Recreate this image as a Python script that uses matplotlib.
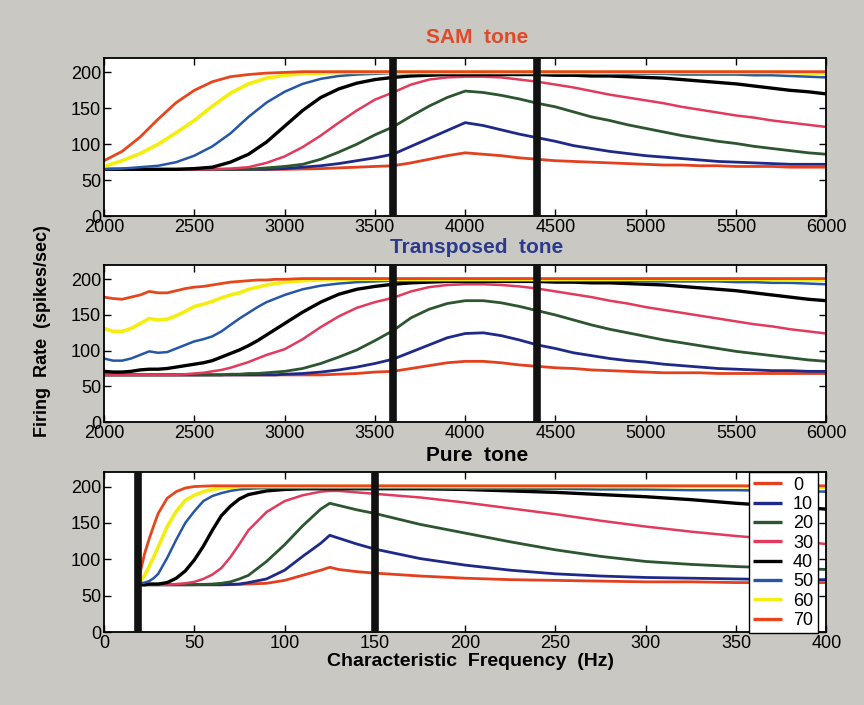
import numpy as np
import matplotlib
matplotlib.use("Agg")
import matplotlib.pyplot as plt

plt.rcParams["font.family"] = ["Liberation Sans Narrow", "Liberation Sans", "DejaVu Sans"]

LEVELS = ["0", "10", "20", "30", "40", "50", "60", "70"]
COLORS = ["#e2401e", "#1f2a88", "#2c5530", "#e23a5c", "#000000", "#2656a6", "#f4ee10", "#e6461c"]
WIDTHS = [2.0, 2.0, 2.0, 1.8, 2.4, 1.8, 2.6, 2.0]

# ---- SAM tone: firing rate vs CF (Hz), 100 Hz steps ----
sam_cf = list(range(2000, 6001, 100))
sam_rate = {
    "0":  [65, 65, 65, 65, 65, 65, 65, 65, 65, 65, 65, 65.5, 66, 67, 68, 69, 70, 74, 79, 84, 88,
           86, 84, 81, 79, 77, 76, 75, 74, 73, 72, 71, 71, 70, 70, 69, 69, 69, 68, 68, 68],
    "10": [65, 65, 65, 65, 65, 65, 65, 65, 65, 65, 66, 68, 70, 73, 77, 81, 86, 97, 108, 119, 130,
           126, 120, 114, 109, 104, 98, 94, 90, 87, 84, 82, 80, 78, 76, 75, 74, 73, 72, 72, 72],
    "20": [65, 65, 65, 65, 65, 65, 65, 65, 65, 67, 69, 72, 79, 89, 100, 113, 124, 139, 153, 165, 174,
           172, 168, 163, 157, 152, 145, 138, 133, 127, 122, 117, 112, 108, 104, 101, 97, 94, 91, 88, 86],
    "30": [65, 65, 65, 65, 65, 65, 65, 66, 68, 74, 83, 96, 112, 130, 147, 162, 172, 183, 190, 193, 194,
           194, 193, 190, 187, 183, 179, 174, 169, 165, 161, 157, 152, 148, 144, 140, 137, 133, 130, 127, 124],
    "40": [65, 65, 65, 65, 65, 66, 68, 75, 86, 103, 125, 147, 165, 177, 185, 190, 193, 195, 196, 197, 197,
           197, 197, 197, 197, 196, 196, 195, 195, 194, 193, 192, 190, 188, 186, 184, 181, 178, 175, 173, 170],
    "50": [65, 66, 68, 70, 75, 84, 97, 115, 138, 158, 173, 184, 191, 195, 197, 198, 199, 199, 199, 199, 199,
           199, 199, 199, 199, 199, 199, 199, 198, 198, 198, 198, 197, 197, 197, 197, 196, 196, 195, 194, 193],
    "60": [69, 77, 87, 100, 116, 133, 153, 171, 184, 192, 196, 198, 199, 200, 200, 200, 200, 200, 200, 200, 200,
           200, 200, 200, 200, 200, 200, 200, 200, 200, 200, 200, 200, 200, 200, 200, 200, 200, 200, 199, 199],
    "70": [77, 90, 110, 135, 158, 175, 187, 194, 197, 199, 200, 201, 201, 201, 201, 201, 201, 201, 201, 201, 201,
           201, 201, 201, 201, 201, 201, 201, 201, 201, 201, 201, 201, 201, 201, 201, 201, 201, 201, 201, 201],
}

# ---- Transposed tone: 50 Hz steps up to 3000, then 100 Hz ----
tr_cf = list(range(2000, 3000, 50)) + list(range(3000, 6001, 100))
tr_rate = {
    "0":  [66, 66, 66, 66, 66, 66, 66, 66, 66, 66, 66, 66, 66, 66, 66, 66, 66, 66, 66, 66,
           66, 66, 66, 67, 68, 70, 71, 75, 79, 83, 85, 85, 83, 80, 78, 76, 75, 73, 72, 71, 70,
           69, 69, 69, 68, 68, 68, 68, 68, 68, 68],
    "10": [66, 66, 66, 66, 66, 66, 66, 66, 66, 66, 66, 66, 66, 66, 66, 66, 66, 66, 66, 66,
           67, 68, 70, 73, 77, 82, 88, 98, 108, 118, 124, 125, 121, 115, 108, 103, 97, 93, 89, 86, 84,
           81, 79, 77, 75, 74, 73, 72, 72, 71, 71],
    "20": [66, 66, 66, 66, 66, 66, 66, 66, 66, 66, 66, 66, 66, 66, 67, 67, 68, 68, 69, 70,
           71, 75, 82, 91, 101, 114, 128, 146, 158, 166, 170, 170, 167, 162, 156, 150, 143, 136, 130, 125, 120,
           115, 111, 107, 103, 99, 96, 93, 90, 87, 85],
    "30": [66, 66, 66, 66, 66, 66, 66, 66, 66, 67, 68, 69, 71, 73, 76, 80, 84, 89, 94, 98,
           102, 116, 133, 148, 160, 168, 174, 183, 189, 192, 193, 193, 192, 190, 187, 183, 179, 175, 170, 166, 161,
           157, 153, 149, 145, 141, 137, 134, 130, 127, 124],
    "40": [71, 70, 70, 71, 73, 74, 74, 75, 77, 79, 81, 83, 86, 91, 96, 101, 107, 114, 122, 130,
           138, 154, 168, 179, 186, 190, 193, 195, 196, 197, 197, 197, 197, 197, 197, 196, 196, 195, 195, 194, 193,
           192, 190, 188, 186, 184, 181, 178, 175, 172, 170],
    "50": [89, 86, 86, 89, 94, 99, 97, 98, 103, 108, 113, 116, 120, 127, 136, 145, 153, 161, 168, 173,
           178, 186, 191, 194, 196, 197, 198, 198, 198, 198, 198, 198, 198, 198, 198, 198, 198, 198, 198, 198, 197,
           197, 197, 197, 197, 196, 196, 195, 195, 194, 193],
    "60": [131, 127, 127, 131, 138, 145, 143, 144, 149, 155, 162, 165, 169, 174, 178, 181, 186, 189, 192, 194,
           196, 198, 199, 200, 200, 200, 200, 200, 200, 200, 200, 200, 200, 200, 200, 200, 200, 200, 200, 200, 200,
           200, 200, 200, 200, 200, 200, 200, 199, 199, 199],
    "70": [175, 173, 172, 175, 178, 183, 181, 181, 184, 187, 189, 190, 192, 194, 196, 197, 198, 199, 199, 200,
           200, 201, 201, 201, 201, 201, 201, 201, 201, 201, 201, 201, 201, 201, 201, 201, 201, 201, 201, 201, 201,
           201, 201, 201, 201, 201, 201, 201, 201, 201, 201],
}

# ---- Pure tone: firing rate vs CF (Hz), 20-400 Hz ----
pure_cf = [20, 22.5, 25, 27.5, 30, 35, 40, 45, 50, 55, 60, 65, 70, 75, 80, 90, 100, 110, 120, 125,
           130, 140, 150, 175, 200, 225, 250, 275, 300, 325, 350, 375, 400]
pure_rate = {
    "0":  [65, 65, 65, 65, 65, 65, 65, 65, 65, 65, 65, 65, 65, 65.5, 66, 67, 71, 78, 85, 89,
           86, 83, 81, 77, 74, 72, 71, 70, 69, 69, 68, 68, 68],
    "10": [65, 65, 65, 65, 65, 65, 65, 65, 65, 65, 65, 65, 65.5, 66, 68, 73, 85, 104, 122, 133,
           129, 121, 114, 101, 92, 85, 80, 77, 75, 74, 73, 72, 72],
    "20": [65, 65, 65, 65, 65, 65, 65, 65, 65, 65.5, 66, 67, 69, 73, 78, 97, 120, 146, 169, 177,
           174, 168, 163, 148, 136, 124, 113, 104, 97, 93, 90, 88, 86],
    "30": [65, 65, 65, 65, 65, 65, 66, 67, 69, 73, 79, 88, 103, 121, 140, 165, 180, 188, 193, 194,
           194, 192, 190, 185, 178, 170, 162, 153, 145, 138, 132, 127, 121],
    "40": [65, 65, 66, 66, 66, 68, 74, 84, 99, 118, 140, 160, 173, 183, 189, 194, 196, 197, 197, 197,
           197, 197, 197, 197, 196, 194, 192, 189, 186, 182, 177, 173, 169],
    "50": [67, 68, 70, 74, 80, 102, 127, 150, 166, 180, 187, 191, 194, 196, 197, 198, 198, 198, 198, 198,
           198, 198, 198, 198, 197, 197, 197, 196, 196, 195, 195, 194, 193],
    "60": [70, 78, 90, 103, 117, 145, 166, 181, 188, 193, 196, 198, 199, 200, 200, 200, 200, 200, 200, 200,
           200, 200, 200, 200, 200, 200, 200, 200, 200, 200, 200, 199, 199],
    "70": [82, 108, 128, 146, 163, 184, 193, 198, 200, 200.5, 201, 201, 201, 201, 201, 201, 201, 201, 201, 201,
           201, 201, 201, 201, 201, 201, 201, 201, 201, 201, 201, 201, 201],
}

BG = "#c9c8c3"
TICK_FONT = 13

fig = plt.figure(figsize=(8.64, 7.05), dpi=100)
fig.patch.set_facecolor(BG)

panels = [
    ([0.1204, 0.6936, 0.836, 0.2241], sam_cf, sam_rate, (2000, 6000), range(2000, 6001, 500), (3600, 4400)),
    ([0.1204, 0.4014, 0.836, 0.2227], tr_cf, tr_rate, (2000, 6000), range(2000, 6001, 500), (3600, 4400)),
    ([0.1204, 0.1035, 0.836, 0.2270], pure_cf, pure_rate, (0, 400), range(0, 401, 50), (19, 150)),
]

axes = []
for rect, cf, rate, xlim, xticks, marks in panels:
    ax = fig.add_axes(rect)
    ax.set_facecolor("white")
    for lvl, col, lw in zip(LEVELS, COLORS, WIDTHS):
        ax.plot(cf, rate[lvl], color=col, lw=lw, label=lvl, solid_capstyle="butt",
                solid_joinstyle="round")
    for m in marks:
        ax.axvline(m, color="#111111", lw=5.5, zorder=5)
    ax.set_xlim(*xlim)
    ax.set_ylim(0, 220)
    ax.set_xticks(list(xticks))
    ax.set_yticks([0, 50, 100, 150, 200])
    ax.tick_params(direction="in", top=True, right=True, length=5, width=1,
                   labelsize=TICK_FONT, pad=2)
    for sp in ax.spines.values():
        sp.set_linewidth(1.3)
    axes.append(ax)

leg = axes[2].legend(loc="upper right", bbox_to_anchor=(0.988, 1.0), borderaxespad=0,
                     frameon=True, fancybox=False, framealpha=1, edgecolor="black",
                     fontsize=13, handlelength=1.6, handletextpad=0.6, labelspacing=0.13,
                     borderpad=0.25)
leg.get_frame().set_linewidth(1.0)
leg.set_zorder(10)
for line in leg.get_lines():
    line.set_linewidth(2.4)

fig.text(0.552, 0.9475, "SAM  tone", color="#e04a28", fontsize=15, fontweight="bold",
         ha="center", va="center")
fig.text(0.552, 0.649, "Transposed  tone", color="#2b3a8c", fontsize=15, fontweight="bold",
         ha="center", va="center")
fig.text(0.552, 0.3546, "Pure  tone", color="black", fontsize=15, fontweight="bold",
         ha="center", va="center")
fig.text(0.049, 0.53, "Firing  Rate  (spikes/sec)", rotation=90, fontsize=13,
         fontweight="bold", ha="center", va="center")
fig.text(0.545, 0.061, "Characteristic  Frequency  (Hz)", fontsize=14, fontweight="bold",
         ha="center", va="center")

fig.savefig("out.png", dpi=100, facecolor=BG)
